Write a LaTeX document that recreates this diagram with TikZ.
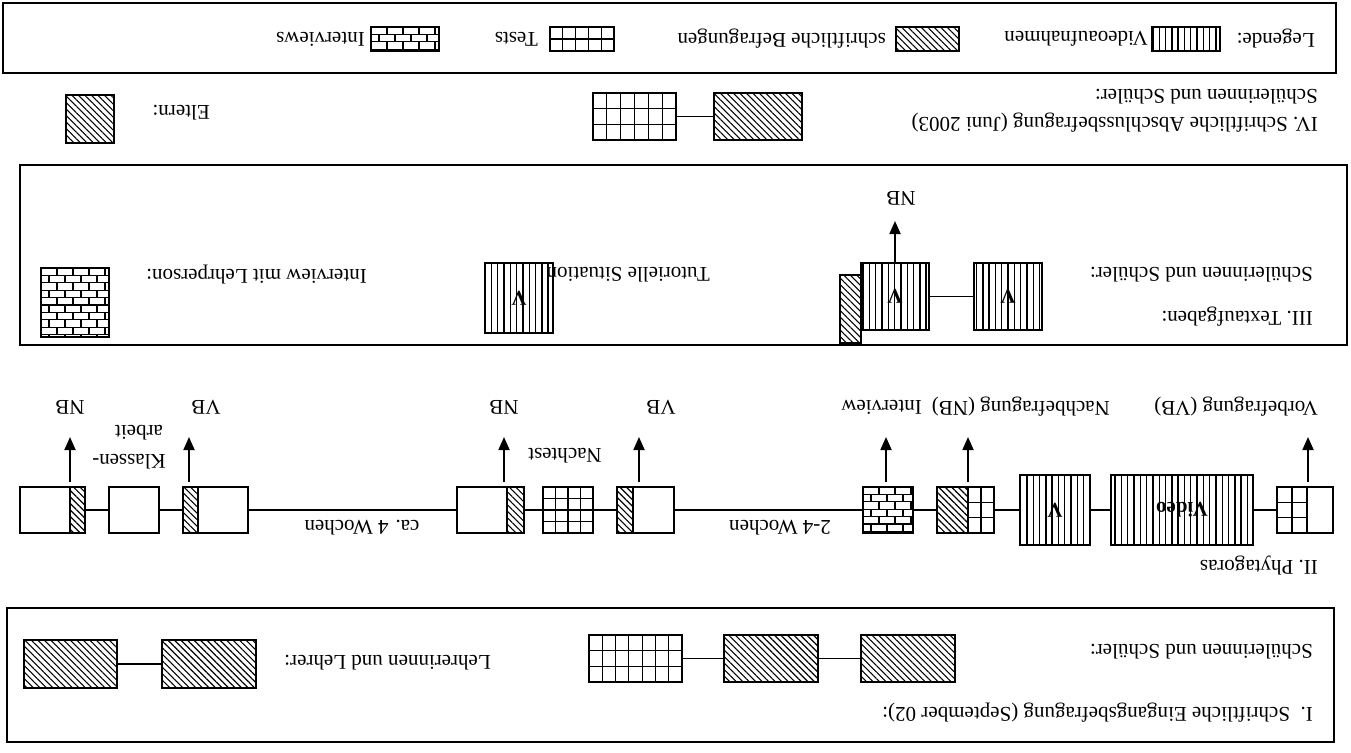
\documentclass[tikz,border=0pt]{standalone}
\usepackage{fontspec}
\setmainfont{Liberation Serif}
\usetikzlibrary{patterns.meta,calc,arrows.meta}
\newcommand\fs{\fontsize{21}{24}\selectfont}
\newcommand\bx[6]{\node[#2, minimum width={(#5)-(#3)}, minimum height={(#6)-(#4)}] (#1) at ({((#3)+(#5))/2},{((#4)+(#6))/2}) {};}
\tikzset{
  txt/.style={rotate=180, inner sep=0pt, font=\fs},
  frame/.style={draw, line width=1.7pt},
  bxs/.style={draw, line width=2pt, inner sep=0pt, outer sep=0pt},
  hatch/.style={bxs, pattern={Lines[angle=-45,distance=4.6pt,line width=1.1pt]}},
  vlines/.style={bxs, pattern={Lines[angle=90,distance=6.3pt,line width=1.4pt]}},
  cells/.style 2 args={bxs, path picture={
    \coordinate (pA) at (path picture bounding box.north west);
    \coordinate (pB) at (path picture bounding box.south east);
    \foreach \k in {1,...,#1}{\draw[line width=1.1pt] ($(pA)!{\k/#1}!(pA-|pB)$) -- ($(pA|-pB)!{\k/#1}!(pB)$);}
    \foreach \k in {1,...,#2}{\draw[line width=1.1pt] ($(pA)!{\k/#2}!(pA|-pB)$) -- ($(pA-|pB)!{\k/#2}!(pB)$);}
  }},
  bricks/.style={bxs, path picture={
    \coordinate (pA) at (path picture bounding box.north west);
    \foreach \r in {0,...,12}{
      \draw[line width=1.1pt] ($(pA)+(0,{\r*7.4})$) -- ++(200,0);
      \pgfmathsetmacro\off{mod(\r,2)*8}
      \foreach \c in {0,...,12}{\draw[line width=1.1pt] ($(pA)+({\off+\c*16},{\r*7.4})$) -- ++(0,7.4);}
    }}},
  plain/.style={bxs},
  conn/.style={line width=1.8pt},
  arr/.style={line width=1.8pt, -{Triangle[length=13pt,width=11pt]}},
}
\begin{document}
\begin{tikzpicture}[x=1pt,y=-1pt]
\fill[white] (0,0) rectangle (1351,752);
\useasboundingbox (0,0) rectangle (1351,752);

% ---------- Legend ----------
\node[frame, minimum width=1333pt, minimum height=70pt, inner sep=0pt] (legbox) at (669.5,38) {};
\node[txt, anchor=west] (leg) at (1315,39) {Legende:};
\bx{lgv}{vlines}{1152}{27}{1220}{51}
\node[txt, anchor=west] (lgvt) at (1148,39) {Videoaufnahmen};
\bx{lgh}{hatch}{896}{27}{959}{51}
\node[txt, anchor=west] (lght) at (886,39) {schriftliche Befragungen};
\bx{lgt}{cells={5}{2}}{550}{27}{614}{51}
\node[txt, anchor=west] (lgtt) at (538,39) {Tests};
\bx{lgi}{bricks}{371}{27}{439}{51}
\node[txt, anchor=west] (lgit) at (365,39) {Interviews};

% ---------- IV ----------
\node[txt, anchor=west] (ivs) at (1318,97) {Schülerinnen und Schüler:};
\node[txt, anchor=west] (ivt) at (1318,123) {IV. Schriftliche Abschlussbefragung (Juni 2003)};
\bx{ivh}{hatch}{714}{93}{802}{140}
\bx{ivg}{cells={6}{3}}{593}{93}{676}{140}
\draw[conn] (ivh.west) -- (ivg.east);
\node[txt, anchor=west] (elt) at (210,113) {Eltern:};
\bx{elh}{hatch}{66}{95}{114}{143}

% ---------- III ----------
\node[frame, minimum width=1327pt, minimum height=180pt, inner sep=0pt] (iiibox) at (683.5,255) {};
\node[txt, anchor=west] (iiis) at (1313,275) {Schülerinnen und Schüler:};
\node[txt, anchor=west] (iiit) at (1313,317) {III. Textaufgaben:};
\bx{v1}{vlines}{974}{263}{1042}{330}
\node[txt, font=\fs\bfseries] (v1t) at (v1) {V};
\bx{bar}{hatch}{840}{275}{861}{343}
\bx{v2}{vlines}{861}{263}{929}{330}
\node[txt, font=\fs\bfseries] (v2t) at (v2) {V};
\draw[conn] (v1.west) -- (v2.east);
\coordinate (nbiii) at (895,221);
\draw[arr] (v2.north) -- (nbiii);
\node[txt] (nbiiit) at (901,198) {NB};
\node[txt, anchor=west] (tut) at (710,275) {Tutorielle Situation};
\bx{v3}{vlines}{485}{263}{553}{333}
\node[txt, font=\fs\bfseries] (v3t) at (v3) {V};
\node[txt, anchor=west] (iml) at (367,275) {Interview mit Lehrperson:};
\bx{br3}{bricks}{41}{268}{109}{337}

% ---------- II ----------
\node[txt, anchor=west] (vbl) at (1318,407) {Vorbefragung (VB)};
\node[txt, anchor=west] (nbl) at (1110,407) {Nachbefragung (NB)};
\node[txt, anchor=west] (ivl) at (922,407) {Interview};
\node[txt] (vb2) at (661,407) {VB};
\node[txt] (nb2) at (504,407) {NB};
\node[txt] (vb3) at (206,407) {VB};
\node[txt] (nb3) at (70,407) {NB};
\node[txt] (nacht) at (565,456) {Nachtest};
\node[txt] (kl1) at (129,462) {Klassen-};
\node[txt] (kl2) at (139,433) {arbeit};

\bx{b1p}{plain}{1307}{487}{1333}{533}
\bx{b1g}{cells={2}{3}}{1277}{487}{1307}{533}
\bx{vid}{vlines}{1111}{475}{1253}{545}
\node[txt, font=\fs\bfseries] (vidt) at (vid) {Video};
\bx{vb}{vlines}{1020}{475}{1090}{545}
\node[txt, font=\fs\bfseries] (vbt) at (vb) {V};
\bx{b3g}{cells={2}{3}}{968}{487}{994}{533}
\bx{b3h}{hatch}{937}{487}{968}{533}
\bx{b4}{bricks}{863}{487}{913}{533}
\bx{b5p}{plain}{633}{487}{674}{533}
\bx{b5h}{hatch}{617}{487}{633}{533}
\bx{b6}{cells={4}{4}}{543}{487}{593}{533}
\bx{b7h}{hatch}{507}{487}{524}{533}
\bx{b7p}{plain}{457}{487}{507}{533}
\bx{b8p}{plain}{198}{487}{248}{533}
\bx{b8h}{hatch}{183}{487}{198}{533}
\bx{b9}{plain}{109}{487}{159}{533}
\bx{b10h}{hatch}{70}{487}{85}{533}
\bx{b10p}{plain}{20}{487}{70}{533}

\draw[conn] (b1g.west) -- (vid.east);
\draw[conn] (vid.west) -- (vb.east);
\draw[conn] (vb.west) -- (b3g.east);
\draw[conn] (b3h.west) -- (b4.east);
\draw[conn] (b4.west) -- (b5p.east);
\draw[conn] (b5h.west) -- (b6.east);
\draw[conn] (b6.west) -- (b7h.east);
\draw[conn] (b7p.west) -- (b8p.east);
\draw[conn] (b8h.west) -- (b9.east);
\draw[conn] (b9.west) -- (b10h.east);

\node[txt] (w24) at (780,528) {2-4 Wochen};
\node[txt] (w4) at (362,528) {ca. 4 Wochen};

\foreach \n/\x in {1/1308,2/968,3/886,4/639,5/504,6/189,7/70}{
  \coordinate (as\n) at (\x,482);
  \coordinate (ae\n) at (\x,437);
  \draw[arr] (as\n) -- (ae\n);
}

\node[txt, anchor=west] (phy) at (1318,566) {II. Phytagoras};

% ---------- I ----------
\node[frame, minimum width=1327pt, minimum height=134pt, inner sep=0pt] (ibox) at (670.5,675) {};
\node[txt, anchor=west] (is) at (1313,652) {Schülerinnen und Schüler:};
\node[txt, anchor=west] (it) at (1313,713) {I.\ \ Schriftliche Eingangsbefragung (September 02):};
\bx{s1}{hatch}{861}{635}{955}{682}
\bx{s2}{hatch}{724}{635}{818}{682}
\bx{s3}{cells={7}{3}}{589}{635}{682}{682}
\draw[conn] (s1.west) -- (s2.east);
\draw[conn] (s2.west) -- (s3.east);
\node[txt, anchor=west] (ll) at (491,663) {Lehrerinnen und Lehrer:};
\bx{l1}{hatch}{162}{640}{256}{688}
\bx{l2}{hatch}{24}{640}{117}{688}
\draw[conn] (l1.west) -- (l2.east);
\end{tikzpicture}
\end{document}
